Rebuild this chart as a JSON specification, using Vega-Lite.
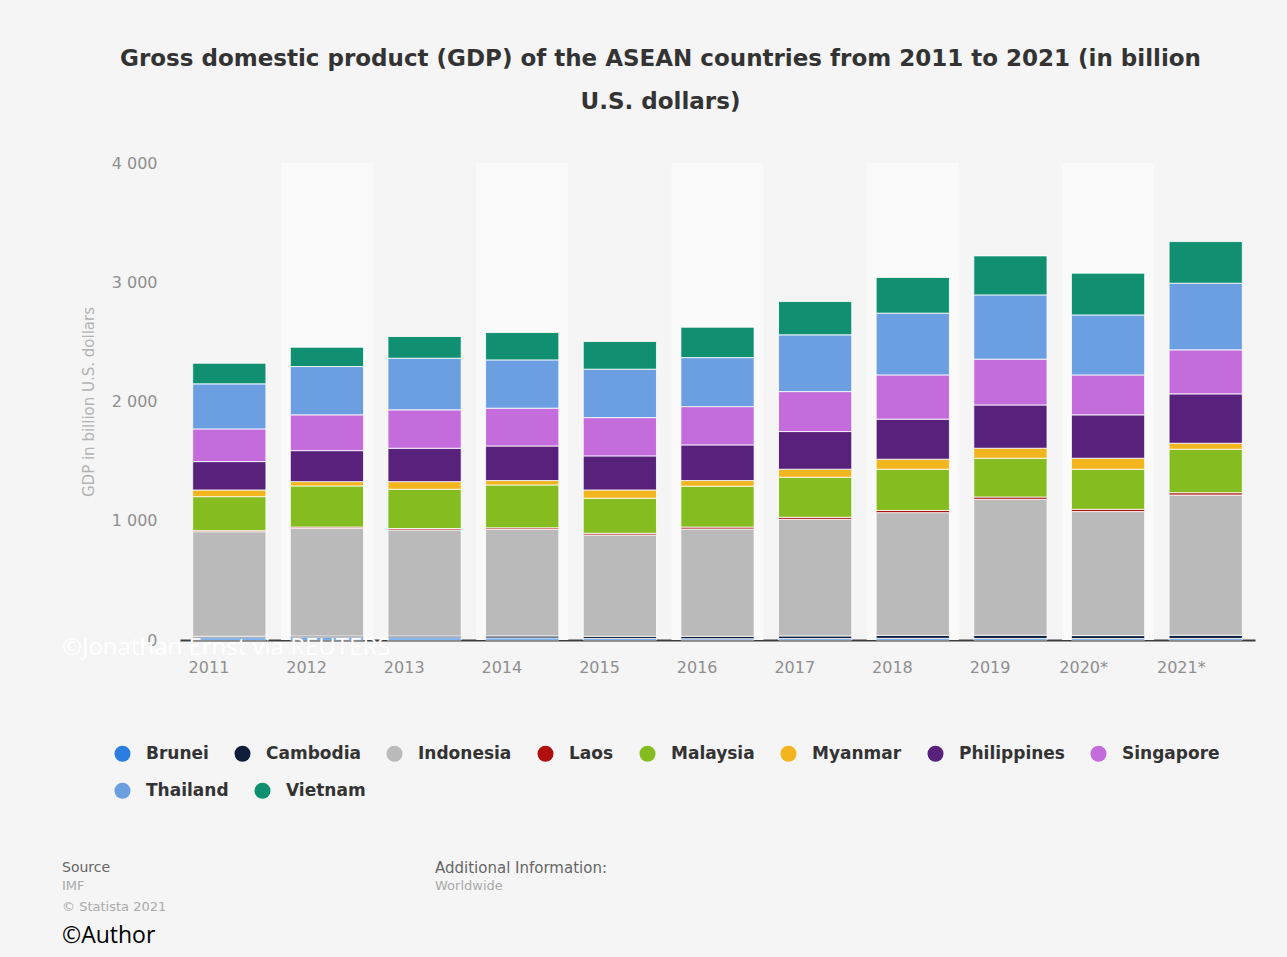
{
  "$schema": "https://vega.github.io/schema/vega-lite/v6.json",
  "width": 1075,
  "height": 477,
  "autosize": {"type": "none"},
  "padding": {"left": 180, "top": 163, "right": 32, "bottom": 317},
  "background": "#f5f5f5",
  "title": {
    "text": ["Gross domestic product (GDP) of the ASEAN countries from 2011 to 2021 (in billion", "U.S. dollars)"],
    "font": "DejaVu Sans",
    "fontSize": 23,
    "fontWeight": "bold",
    "color": "#333333",
    "lineHeight": 43,
    "anchor": "middle",
    "frame": "group",
    "dx": -57,
    "offset": 41
  },
  "data": {
    "values": [
      {"year": "2011", "country": "Brunei", "gdp": 18},
      {"year": "2011", "country": "Cambodia", "gdp": 13},
      {"year": "2011", "country": "Indonesia", "gdp": 877},
      {"year": "2011", "country": "Laos", "gdp": 9},
      {"year": "2011", "country": "Malaysia", "gdp": 285},
      {"year": "2011", "country": "Myanmar", "gdp": 56},
      {"year": "2011", "country": "Philippines", "gdp": 238},
      {"year": "2011", "country": "Singapore", "gdp": 274},
      {"year": "2011", "country": "Thailand", "gdp": 378},
      {"year": "2011", "country": "Vietnam", "gdp": 173},
      {"year": "2012", "country": "Brunei", "gdp": 19},
      {"year": "2012", "country": "Cambodia", "gdp": 14},
      {"year": "2012", "country": "Indonesia", "gdp": 904},
      {"year": "2012", "country": "Laos", "gdp": 10},
      {"year": "2012", "country": "Malaysia", "gdp": 345},
      {"year": "2012", "country": "Myanmar", "gdp": 36},
      {"year": "2012", "country": "Philippines", "gdp": 260},
      {"year": "2012", "country": "Singapore", "gdp": 300},
      {"year": "2012", "country": "Thailand", "gdp": 405},
      {"year": "2012", "country": "Vietnam", "gdp": 162},
      {"year": "2013", "country": "Brunei", "gdp": 18},
      {"year": "2013", "country": "Cambodia", "gdp": 15},
      {"year": "2013", "country": "Indonesia", "gdp": 890},
      {"year": "2013", "country": "Laos", "gdp": 12},
      {"year": "2013", "country": "Malaysia", "gdp": 329},
      {"year": "2013", "country": "Myanmar", "gdp": 64},
      {"year": "2013", "country": "Philippines", "gdp": 280},
      {"year": "2013", "country": "Singapore", "gdp": 322},
      {"year": "2013", "country": "Thailand", "gdp": 433},
      {"year": "2013", "country": "Vietnam", "gdp": 182},
      {"year": "2014", "country": "Brunei", "gdp": 17},
      {"year": "2014", "country": "Cambodia", "gdp": 17},
      {"year": "2014", "country": "Indonesia", "gdp": 894},
      {"year": "2014", "country": "Laos", "gdp": 13},
      {"year": "2014", "country": "Malaysia", "gdp": 359},
      {"year": "2014", "country": "Myanmar", "gdp": 37},
      {"year": "2014", "country": "Philippines", "gdp": 290},
      {"year": "2014", "country": "Singapore", "gdp": 317},
      {"year": "2014", "country": "Thailand", "gdp": 405},
      {"year": "2014", "country": "Vietnam", "gdp": 229},
      {"year": "2015", "country": "Brunei", "gdp": 13},
      {"year": "2015", "country": "Cambodia", "gdp": 18},
      {"year": "2015", "country": "Indonesia", "gdp": 850},
      {"year": "2015", "country": "Laos", "gdp": 14},
      {"year": "2015", "country": "Malaysia", "gdp": 294},
      {"year": "2015", "country": "Myanmar", "gdp": 69},
      {"year": "2015", "country": "Philippines", "gdp": 286},
      {"year": "2015", "country": "Singapore", "gdp": 321},
      {"year": "2015", "country": "Thailand", "gdp": 406},
      {"year": "2015", "country": "Vietnam", "gdp": 232},
      {"year": "2016", "country": "Brunei", "gdp": 11},
      {"year": "2016", "country": "Cambodia", "gdp": 20},
      {"year": "2016", "country": "Indonesia", "gdp": 900},
      {"year": "2016", "country": "Laos", "gdp": 16},
      {"year": "2016", "country": "Malaysia", "gdp": 343},
      {"year": "2016", "country": "Myanmar", "gdp": 47},
      {"year": "2016", "country": "Philippines", "gdp": 299},
      {"year": "2016", "country": "Singapore", "gdp": 321},
      {"year": "2016", "country": "Thailand", "gdp": 411},
      {"year": "2016", "country": "Vietnam", "gdp": 255},
      {"year": "2017", "country": "Brunei", "gdp": 12},
      {"year": "2017", "country": "Cambodia", "gdp": 22},
      {"year": "2017", "country": "Indonesia", "gdp": 978},
      {"year": "2017", "country": "Laos", "gdp": 17},
      {"year": "2017", "country": "Malaysia", "gdp": 336},
      {"year": "2017", "country": "Myanmar", "gdp": 67},
      {"year": "2017", "country": "Philippines", "gdp": 316},
      {"year": "2017", "country": "Singapore", "gdp": 335},
      {"year": "2017", "country": "Thailand", "gdp": 476},
      {"year": "2017", "country": "Vietnam", "gdp": 279},
      {"year": "2018", "country": "Brunei", "gdp": 14},
      {"year": "2018", "country": "Cambodia", "gdp": 25},
      {"year": "2018", "country": "Indonesia", "gdp": 1029},
      {"year": "2018", "country": "Laos", "gdp": 18},
      {"year": "2018", "country": "Malaysia", "gdp": 346},
      {"year": "2018", "country": "Myanmar", "gdp": 84},
      {"year": "2018", "country": "Philippines", "gdp": 336},
      {"year": "2018", "country": "Singapore", "gdp": 371},
      {"year": "2018", "country": "Thailand", "gdp": 518},
      {"year": "2018", "country": "Vietnam", "gdp": 299},
      {"year": "2019", "country": "Brunei", "gdp": 13},
      {"year": "2019", "country": "Cambodia", "gdp": 27},
      {"year": "2019", "country": "Indonesia", "gdp": 1140},
      {"year": "2019", "country": "Laos", "gdp": 19},
      {"year": "2019", "country": "Malaysia", "gdp": 325},
      {"year": "2019", "country": "Myanmar", "gdp": 84},
      {"year": "2019", "country": "Philippines", "gdp": 363},
      {"year": "2019", "country": "Singapore", "gdp": 384},
      {"year": "2019", "country": "Thailand", "gdp": 539},
      {"year": "2019", "country": "Vietnam", "gdp": 327},
      {"year": "2020*", "country": "Brunei", "gdp": 12},
      {"year": "2020*", "country": "Cambodia", "gdp": 25},
      {"year": "2020*", "country": "Indonesia", "gdp": 1040},
      {"year": "2020*", "country": "Laos", "gdp": 19},
      {"year": "2020*", "country": "Malaysia", "gdp": 336},
      {"year": "2020*", "country": "Myanmar", "gdp": 92},
      {"year": "2020*", "country": "Philippines", "gdp": 364},
      {"year": "2020*", "country": "Singapore", "gdp": 335},
      {"year": "2020*", "country": "Thailand", "gdp": 503},
      {"year": "2020*", "country": "Vietnam", "gdp": 350},
      {"year": "2021*", "country": "Brunei", "gdp": 13},
      {"year": "2021*", "country": "Cambodia", "gdp": 27},
      {"year": "2021*", "country": "Indonesia", "gdp": 1176},
      {"year": "2021*", "country": "Laos", "gdp": 19},
      {"year": "2021*", "country": "Malaysia", "gdp": 365},
      {"year": "2021*", "country": "Myanmar", "gdp": 50},
      {"year": "2021*", "country": "Philippines", "gdp": 414},
      {"year": "2021*", "country": "Singapore", "gdp": 369},
      {"year": "2021*", "country": "Thailand", "gdp": 559},
      {"year": "2021*", "country": "Vietnam", "gdp": 349}
    ]
  },
  "layer": [
    {
      "transform": [
        {"filter": "datum.country == 'Indonesia' && indexof(['2012', '2014', '2016', '2018', '2020*'], datum.year) >= 0"}
      ],
      "mark": {"type": "bar", "color": "#fafafa", "size": 92},
      "encoding": {
        "x": {
          "field": "year",
          "type": "nominal",
          "scale": {"domain": ["2011", "2012", "2013", "2014", "2015", "2016", "2017", "2018", "2019", "2020*", "2021*"]}
        },
        "y": {"datum": 0, "type": "quantitative"},
        "y2": {"datum": 4000}
      }
    },
    {
      "mark": {"type": "bar", "stroke": "#ffffff", "strokeWidth": 1, "strokeOpacity": 0.8},
      "encoding": {
        "x": {
          "field": "year",
          "type": "nominal",
          "scale": {
            "domain": ["2011", "2012", "2013", "2014", "2015", "2016", "2017", "2018", "2019", "2020*", "2021*"],
            "paddingInner": 0.25,
            "paddingOuter": 0.13
          },
          "axis": {
            "title": null,
            "labelAngle": 0,
            "labelColor": "#8f8f8f",
            "labelFont": "DejaVu Sans",
            "labelFontSize": 16,
            "labelPadding": 27,
            "ticks": false,
            "domainColor": "#3c3c3c",
            "domainWidth": 2,
            "grid": false
          }
        },
        "y": {
          "field": "gdp",
          "type": "quantitative",
          "stack": "zero",
          "scale": {"domain": [0, 4000], "nice": false},
          "axis": {
            "title": "GDP in billion U.S. dollars",
            "titleColor": "#b3b3b3",
            "titleFont": "DejaVu Sans",
            "titleFontSize": 15,
            "titleFontWeight": "normal",
            "titlePadding": 15,
            "values": [0, 1000, 2000, 3000, 4000],
            "labelExpr": "replace(format(datum.value, ','), ',', ' ')",
            "labelColor": "#8f8f8f",
            "labelFont": "DejaVu Sans",
            "labelFontSize": 16,
            "labelPadding": 23,
            "ticks": false,
            "domain": false,
            "gridColor": "#e2e2e2",
            "gridWidth": 1
          }
        },
        "color": {
          "field": "country",
          "type": "nominal",
          "scale": {
            "domain": ["Brunei", "Cambodia", "Indonesia", "Laos", "Malaysia", "Myanmar", "Philippines", "Singapore", "Thailand", "Vietnam"],
            "range": ["#2b7de0", "#0f1e3a", "#bababa", "#b0100f", "#85bd20", "#f2b51e", "#58217c", "#c46cdc", "#6c9fe1", "#108f71"]
          },
          "legend": {
            "title": null,
            "values": ["Brunei", "Cambodia", "Indonesia", "Laos", "Malaysia", "Myanmar", "Philippines", "Singapore"],
            "orient": "none",
            "legendX": -66,
            "legendY": 582,
            "direction": "horizontal",
            "columns": 8,
            "symbolType": "circle",
            "symbolSize": 256,
            "symbolStrokeWidth": 0,
            "symbolOpacity": 1,
            "labelFont": "DejaVu Sans",
            "labelFontSize": 17,
            "labelFontWeight": "bold",
            "labelColor": "#333333",
            "labelOffset": 15,
            "columnPadding": 25,
            "padding": 0
          }
        },
        "order": {"field": "country", "sort": "ascending"}
      }
    },
    {
      "transform": [
        {"filter": "datum.country == 'Thailand' || datum.country == 'Vietnam'"}
      ],
      "mark": {"type": "point", "filled": true, "opacity": 0},
      "encoding": {
        "x": {"field": "year", "type": "nominal"},
        "y": {"field": "gdp", "type": "quantitative"},
        "fill": {
          "field": "country",
          "type": "nominal",
          "scale": {"domain": ["Thailand", "Vietnam"], "range": ["#6c9fe1", "#108f71"]},
          "legend": {
            "title": null,
            "orient": "none",
            "legendX": -66,
            "legendY": 619,
            "direction": "horizontal",
            "columns": 2,
            "symbolType": "circle",
            "symbolSize": 256,
            "symbolStrokeWidth": 0,
            "symbolOpacity": 1,
            "symbolFillColor": null,
            "labelFont": "DejaVu Sans",
            "labelFontSize": 17,
            "labelFontWeight": "bold",
            "labelColor": "#333333",
            "labelOffset": 15,
            "columnPadding": 25,
            "padding": 0
          }
        }
      }
    },
    {
      "data": {"values": [{"label": "©Jonathan Ernst via REUTERS"}]},
      "mark": {"type": "text", "font": "Open Sans", "fontSize": 24, "color": "#ffffff", "align": "left", "baseline": "middle"},
      "encoding": {"text": {"field": "label"}, "x": {"value": -118}, "y": {"value": 485}}
    },
    {
      "data": {"values": [{"label": "Source"}]},
      "mark": {"type": "text", "font": "DejaVu Sans", "fontSize": 14, "color": "#666666", "align": "left", "baseline": "middle"},
      "encoding": {"text": {"field": "label"}, "x": {"value": -118}, "y": {"value": 705}}
    },
    {
      "data": {"values": [{"label": "Additional Information:"}]},
      "mark": {"type": "text", "font": "DejaVu Sans", "fontSize": 15, "color": "#666666", "align": "left", "baseline": "middle"},
      "encoding": {"text": {"field": "label"}, "x": {"value": 255}, "y": {"value": 705}}
    },
    {
      "data": {"values": [{"label": "IMF"}]},
      "mark": {"type": "text", "font": "DejaVu Sans", "fontSize": 13, "color": "#aaaaaa", "align": "left", "baseline": "middle"},
      "encoding": {"text": {"field": "label"}, "x": {"value": -118}, "y": {"value": 723}}
    },
    {
      "data": {"values": [{"label": "Worldwide"}]},
      "mark": {"type": "text", "font": "DejaVu Sans", "fontSize": 13, "color": "#aaaaaa", "align": "left", "baseline": "middle"},
      "encoding": {"text": {"field": "label"}, "x": {"value": 255}, "y": {"value": 723}}
    },
    {
      "data": {"values": [{"label": "© Statista 2021"}]},
      "mark": {"type": "text", "font": "DejaVu Sans", "fontSize": 13, "color": "#aaaaaa", "align": "left", "baseline": "middle"},
      "encoding": {"text": {"field": "label"}, "x": {"value": -118}, "y": {"value": 744}}
    },
    {
      "data": {"values": [{"label": "©Author"}]},
      "mark": {"type": "text", "font": "Open Sans", "fontSize": 23, "color": "#000000", "align": "left", "baseline": "middle"},
      "encoding": {"text": {"field": "label"}, "x": {"value": -118}, "y": {"value": 773}}
    }
  ],
  "config": {
    "view": {"stroke": null},
    "font": "DejaVu Sans"
  }
}
